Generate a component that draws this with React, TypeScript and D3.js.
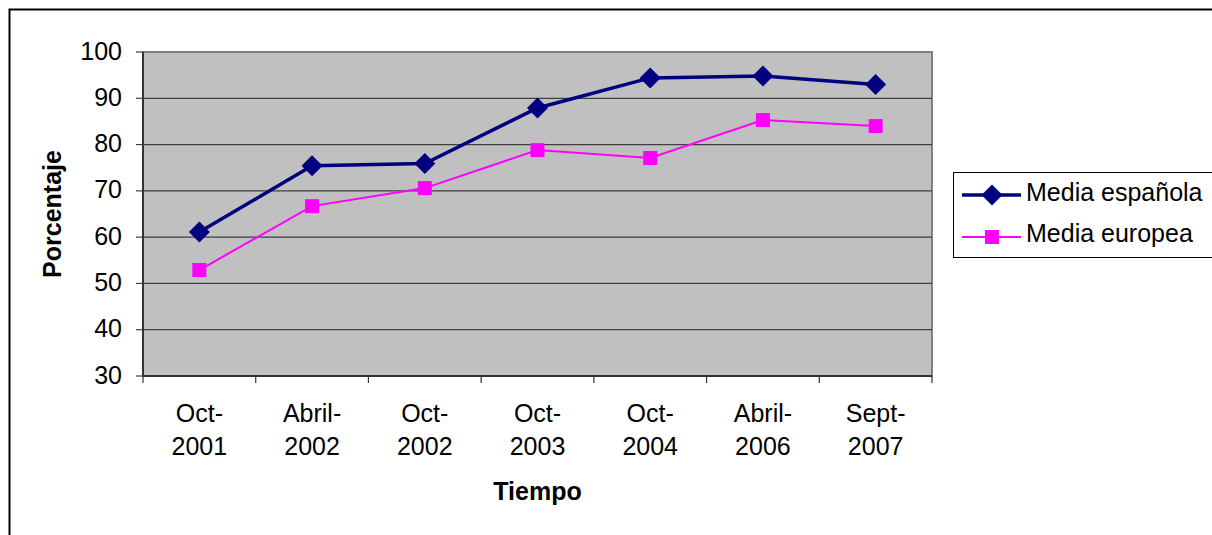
import * as d3 from "d3";

const categories = [
  ["Oct-", "2001"],
  ["Abril-", "2002"],
  ["Oct-", "2002"],
  ["Oct-", "2003"],
  ["Oct-", "2004"],
  ["Abril-", "2006"],
  ["Sept-", "2007"],
];
const mediaEspanola = [61.1, 75.4, 75.9, 87.9, 94.4, 94.8, 93.0];
const mediaEuropea = [52.9, 66.7, 70.6, 78.8, 77.1, 85.3, 84.0];
const yTicks = [30, 40, 50, 60, 70, 80, 90, 100];

const W = 1212;
const H = 535;
const font = "'Liberation Sans', Arial, sans-serif";
const fs = 25;

const App = () => {
  const left = 143;
  const right = 932;
  const top = 52;
  const bottom = 376;

  const x = d3
    .scaleBand<number>()
    .domain(d3.range(categories.length))
    .range([left, right]);
  const y = d3.scaleLinear().domain([30, 100]).range([bottom, top]);
  const cx = (i: number) => (x(i) as number) + x.bandwidth() / 2;

  const line = d3
    .line<number>()
    .x((_, i) => cx(i))
    .y((d) => y(d));

  const diamond = (px: number, py: number, r: number) =>
    `M${px},${py - r}L${px + r},${py}L${px},${py + r}L${px - r},${py}Z`;

  return (
    <svg
      width={W}
      height={H}
      style={{ position: "absolute", left: 0, top: 0, fontFamily: font }}
    >
      <rect x={0} y={0} width={W} height={H} fill="#fff" />
      {/* outer chart border, cut by the window */}
      <rect x={9.5} y={9.5} width={W + 10} height={H + 10} fill="none" stroke="#000" strokeWidth={2} />

      {/* plot area */}
      <rect x={left} y={top} width={right - left} height={bottom - top} fill="#c0c0c0" stroke="#808080" strokeWidth={2} />
      {yTicks.map((t) => (
        <g key={t}>
          {t > 30 && t < 100 && (
            <line x1={left} x2={right} y1={y(t)} y2={y(t)} stroke="#404040" strokeWidth={1.2} />
          )}
          <line x1={left - 7} x2={left} y1={y(t)} y2={y(t)} stroke="#404040" strokeWidth={1.2} />
          <text x={122} y={y(t) + 7.5} textAnchor="end" fontSize={fs} fill="#000">
            {t}
          </text>
        </g>
      ))}
      {/* axes */}
      <line x1={left} x2={left} y1={top} y2={bottom} stroke="#333" strokeWidth={2} />
      <line x1={left} x2={right} y1={bottom} y2={bottom} stroke="#333" strokeWidth={2} />
      {d3.range(categories.length + 1).map((i) => {
        const xx = i < categories.length ? (x(i) as number) : right;
        return <line key={i} x1={xx} x2={xx} y1={bottom} y2={bottom + 7} stroke="#333" strokeWidth={1.2} />;
      })}
      {categories.map((c, i) => (
        <text key={i} textAnchor="middle" fontSize={fs} fill="#000">
          <tspan x={cx(i)} y={422}>{c[0]}</tspan>
          <tspan x={cx(i)} y={455}>{c[1]}</tspan>
        </text>
      ))}

      {/* series */}
      <path d={line(mediaEuropea) || ""} fill="none" stroke="#ff00ff" strokeWidth={2} />
      {mediaEuropea.map((v, i) => (
        <rect key={i} x={cx(i) - 7} y={y(v) - 7} width={14} height={14} fill="#ff00ff" />
      ))}
      <path d={line(mediaEspanola) || ""} fill="none" stroke="#000080" strokeWidth={3.5} />
      {mediaEspanola.map((v, i) => (
        <path key={i} d={diamond(cx(i), y(v), 10.5)} fill="#000080" />
      ))}

      {/* axis titles */}
      <text x={(left + right) / 2} y={500} textAnchor="middle" fontSize={fs} fontWeight="bold" fill="#000">
        Tiempo
      </text>
      <text
        transform={`translate(61, ${(top + bottom) / 2}) rotate(-90)`}
        textAnchor="middle"
        fontSize={fs}
        fontWeight="bold"
        fill="#000"
      >
        Porcentaje
      </text>

      {/* legend */}
      <rect x={953.5} y={172.5} width={270} height={85} fill="#fff" stroke="#000" strokeWidth={1} />
      <line x1={962} x2={1021} y1={195} y2={195} stroke="#000080" strokeWidth={3.5} />
      <path d={diamond(992, 195, 10.5)} fill="#000080" />
      <text x={1026} y={201} fontSize={fs} fill="#000">Media española</text>
      <line x1={962} x2={1021} y1={237} y2={237} stroke="#ff00ff" strokeWidth={2} />
      <rect x={985} y={230} width={14} height={14} fill="#ff00ff" />
      <text x={1026} y={242} fontSize={fs} fill="#000">Media europea</text>
    </svg>
  );
};

export default App;
